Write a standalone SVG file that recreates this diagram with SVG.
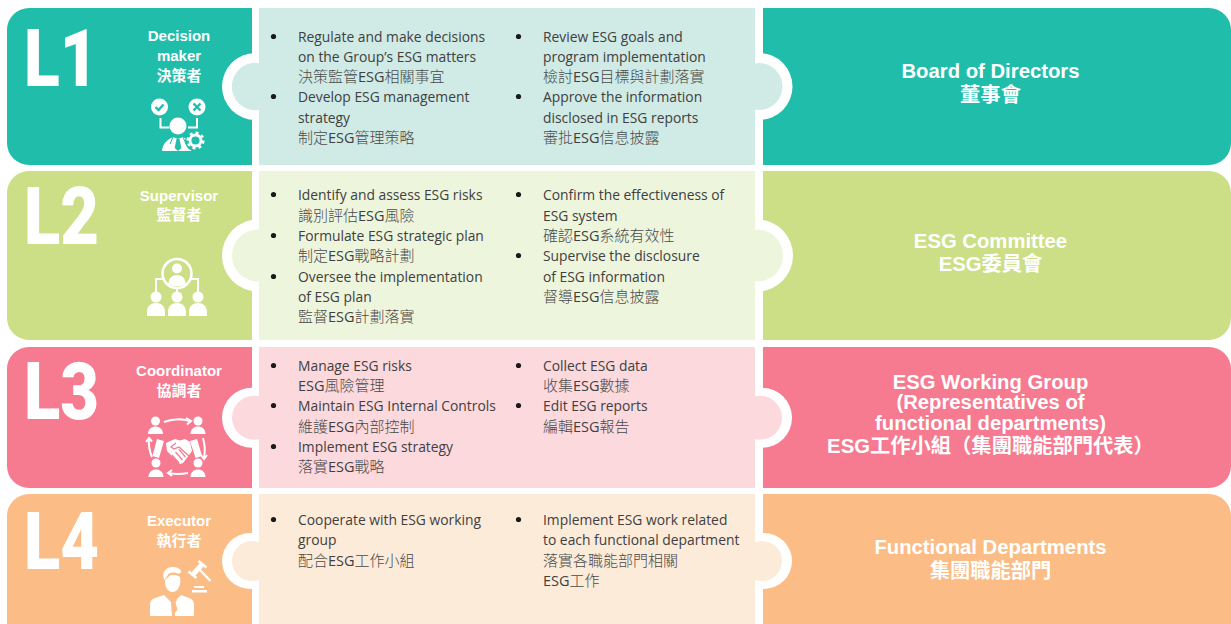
<svg xmlns="http://www.w3.org/2000/svg" width="1231" height="624" viewBox="0 0 1231 624">
<style>
.b{font:13.85px "Open Sans","Noto Sans CJK TC",sans-serif;fill:#404040}
.c{font:300 15px "Open Sans","Noto Sans CJK TC",sans-serif;fill:#4a4a4a}
.e{font-weight:400;font-size:14.5px;fill:#404040}
.d{fill:#1a1a1a}
.big{font:900 80px Roboto,"Liberation Sans",sans-serif;fill:#fff}
.role{font:bold 15px "Liberation Sans","Noto Sans CJK TC",sans-serif;fill:#fff;text-anchor:middle}
.name{font:bold 20.300px "Liberation Sans","Noto Sans CJK TC",sans-serif;fill:#fff;text-anchor:middle}
.w{fill:#fff}
.s{fill:none;stroke:#fff;stroke-width:2}
</style>
<g id="row-l1">
<path d="M29 8H252V165H29A22 22 0 0 1 7 143V30A22 22 0 0 1 29 8Z" fill="#21bdab"/>
<path d="M763 8H1209A22 22 0 0 1 1231 30V143A22 22 0 0 1 1209 165H763Z" fill="#21bdab"/>
<circle cx="255.500" cy="86.500" r="33.500" class="w"/><circle cx="759" cy="86.500" r="33.500" class="w"/>
<rect x="259" y="8" width="496" height="157" fill="#d0eae5"/>
<circle cx="255.500" cy="86.500" r="23.700" fill="#d0eae5"/><circle cx="759" cy="86.500" r="23.500" fill="#d0eae5"/>
<text x="24" y="86" class="big" textLength="74" lengthAdjust="spacingAndGlyphs">L1</text>
<text x="179" y="41" class="role">Decision</text><text x="179" y="61" class="role">maker</text><text x="179" y="81" class="role">決策者</text>
<g id="icon-l1">
<circle cx="159.500" cy="107" r="8.500" class="w"/><circle cx="197" cy="107" r="8.500" class="w"/>
<path d="M155.500 107l3 3 5-5.500M193.500 103.500l7 7M200.500 103.500l-7 7" fill="none" stroke="#21bdab" stroke-width="2.400"/>
<path class="s" d="M160.500 118v9.500h9M197 118v9.500h-9" stroke-width="1.500"/>
<circle cx="178" cy="126" r="8.500" class="w"/>
<path class="w" d="M162 151c1-8 5-11 11-14l5 2 5-2c6 3 10 6 11 14Z"/>
<path d="M176.500 139h3l1.800 9-3.300 3-3.300-3Z" fill="#21bdab"/>
<path d="M173 137l-3 7M183 137l3 7" stroke="#21bdab" fill="none"/>
<circle cx="195.500" cy="141" r="10.500" fill="#21bdab"/>
<circle cx="195.500" cy="140.500" r="5.500" fill="none" stroke="#fff" stroke-width="2.800"/>
<circle cx="195.500" cy="140.500" r="7.800" fill="none" stroke="#fff" stroke-width="2.500" stroke-dasharray="3 3.100"/>
</g>
<text x="990.500" y="78" class="name">Board of Directors</text><text x="990.500" y="102" class="name">董事會</text>
</g>
<g id="row-l2">
<path d="M29 171H252V340H29A22 22 0 0 1 7 318V193A22 22 0 0 1 29 171Z" fill="#ccdf86"/>
<path d="M763 171H1209A22 22 0 0 1 1231 193V318A22 22 0 0 1 1209 340H763Z" fill="#ccdf86"/>
<circle cx="258" cy="255.500" r="36" class="w"/><circle cx="757" cy="255.500" r="36" class="w"/>
<rect x="259" y="171" width="496" height="169" fill="#eef5dd"/>
<circle cx="258" cy="255.500" r="26" fill="#eef5dd"/><circle cx="757" cy="255.500" r="26" fill="#eef5dd"/>
<text x="24" y="243.500" class="big" textLength="75" lengthAdjust="spacingAndGlyphs">L2</text>
<text x="179" y="201" class="role">Supervisor</text><text x="179" y="220" class="role">監督者</text>
<g id="icon-l2">
<circle cx="177" cy="273.500" r="14.500" fill="none" stroke="#fff" stroke-width="2.500"/>
<circle cx="177" cy="268.500" r="5" class="w"/><path class="w" d="M168.500 284c0-6 4-9 8.500-9s8.500 3 8.500 9c-5 3-12 3-17 0Z"/>
<path class="s" d="M156 292v-13h9M198 292v-13h-9M177 287v5" stroke-width="2.500"/>
<g class="w"><circle cx="156" cy="297" r="5.500"/><circle cx="177" cy="297" r="5.500"/><circle cx="198" cy="297" r="5.500"/>
<path d="M147 316v-4c0-6 4-9 9-9s9 3 9 9v4ZM168 316v-4c0-6 4-9 9-9s9 3 9 9v4ZM189 316v-4c0-6 4-9 9-9s9 3 9 9v4Z"/></g>
</g>
<text x="990.500" y="248" class="name">ESG Committee</text><text x="990.500" y="271" class="name">ESG委員會</text>
</g>
<g id="row-l3">
<path d="M29 347H252V488H29A22 22 0 0 1 7 466V369A22 22 0 0 1 29 347Z" fill="#f67a90"/>
<path d="M763 347H1209A22 22 0 0 1 1231 369V466A22 22 0 0 1 1209 488H763Z" fill="#f67a90"/>
<circle cx="252" cy="417.700" r="30" class="w"/><circle cx="762" cy="417.700" r="30" class="w"/>
<rect x="259" y="347" width="496" height="141" fill="#fcd9dd"/>
<circle cx="254" cy="417.700" r="22" fill="#fcd9dd"/><circle cx="760" cy="417.700" r="22" fill="#fcd9dd"/>
<text x="24" y="419" class="big" textLength="75" lengthAdjust="spacingAndGlyphs">L3</text>
<text x="179" y="376" class="role">Coordinator</text><text x="179" y="396" class="role">協調者</text>
<g id="icon-l3">
<g class="w"><circle cx="155.500" cy="421" r="4.500"/><circle cx="198" cy="421" r="4.500"/><circle cx="156" cy="463" r="4.500"/><circle cx="198" cy="463" r="4.500"/>
<path d="M148 434c0-5 3.500-7.500 7.500-7.500s7.500 2.500 7.500 7.500ZM190.500 434c0-5 3.500-7.500 7.500-7.500s7.500 2.500 7.500 7.500ZM148.500 477c0-5 3.500-7.500 7.500-7.500s7.500 2.500 7.500 7.500ZM190.500 477c0-5 3.500-7.500 7.500-7.500s7.500 2.500 7.500 7.500Z"/>
<path d="M157 439l7 2-5 17-6.500-2ZM190 441l7-2 5 17-6.500 2Z"/>
<path d="M166 443l9-4 5 1.500 5-1.500 5 3 2 9-9 12-3 1-13-13Z"/></g>
<path d="M176 443l-5 4 3 2 5-2 11 10M172 455l7 8M175.500 452l7 8M179 449.500l6.500 7.500" fill="none" stroke="#f67a90" stroke-width="1.200"/>
<path class="s" d="M164 422q13-5 26-1M152 457q-4-9-3-19M203 438q3 10 1 20M188 473q-10 2-20 0" stroke-width="1.600"/>
<path class="s" d="M186 418l5 3-4 3.500M146 442l3-4 3 3.500M201 455l3 4 3-4M172 470l-4 3 4 3" stroke-width="1.600"/>
</g>
<text x="990.500" y="389" class="name">ESG Working Group</text><text x="990.500" y="409" class="name">(Representatives of</text><text x="990.500" y="430" class="name">functional departments)</text><text x="990.500" y="453" class="name">ESG工作小組（集團職能部門代表）</text>
</g>
<g id="row-l4">
<path d="M29 494H252V624H7V516A22 22 0 0 1 29 494Z" fill="#fbbc85"/>
<path d="M763 494H1209A22 22 0 0 1 1231 516V624H763Z" fill="#fbbc85"/>
<circle cx="250" cy="561" r="28" class="w"/><circle cx="764" cy="561" r="28" class="w"/>
<rect x="259" y="494" width="496" height="130" fill="#fdebd9"/>
<circle cx="252" cy="561" r="20" fill="#fdebd9"/><circle cx="762" cy="561" r="20" fill="#fdebd9"/>
<text x="24" y="569" class="big" textLength="75" lengthAdjust="spacingAndGlyphs">L4</text>
<text x="179" y="526" class="role">Executor</text><text x="179" y="546" class="role">執行者</text>
<g id="icon-l4">
<path class="w" d="M163.500 578c-1-7 3-11 9-11 5 0 8 2 9 5l-3 2c-3-2-7-2-10 0l-4 6Z"/>
<path class="w" d="M165 580c3-3 5-5 7-5 3 0 5 0 8 2 1 5 0 9-2 12-3 4-8 4-11 0-2-3-2-6-2-9Z"/>
<path class="w" d="M150 616v-12c0-3 2-5 5-6l9-3 7 7 1 14ZM194 616v-12c0-3-2-5-5-6l-8-3-7 7 1 14Z"/>
<path d="M172 600l2.500-2 2.500 2-1.500 2 2 8-3 3-3-3 2-8Z" fill="#fbbc85"/>
<path d="M192.500 575l10-11" fill="none" stroke="#fff" stroke-width="5"/>
<path d="M188.500 571.500l8 6.500M198.500 561l8 6.500M200 570l10.500 11" fill="none" stroke="#fff" stroke-width="2.500"/>
<path class="w" d="M194 586h10v2h-10ZM192 590h15v2.500h-15Z"/>
</g>
<text x="990.500" y="554" class="name">Functional Departments</text><text x="990.500" y="578" class="name">集團職能部門</text>
</g>
<g id="bullets" class="d">
<circle cx="273.500" cy="36.500" r="2.600"/><circle cx="273.500" cy="96.500" r="2.600"/><circle cx="518.500" cy="36.500" r="2.600"/><circle cx="518.500" cy="96.500" r="2.600"/>
<circle cx="273.500" cy="194.500" r="2.600"/><circle cx="273.500" cy="235.500" r="2.600"/><circle cx="273.500" cy="276.500" r="2.600"/><circle cx="518.500" cy="194.500" r="2.600"/><circle cx="518.500" cy="255.500" r="2.600"/>
<circle cx="273.500" cy="365.500" r="2.600"/><circle cx="273.500" cy="405.500" r="2.600"/><circle cx="273.500" cy="446.500" r="2.600"/><circle cx="518.500" cy="365.500" r="2.600"/><circle cx="518.500" cy="405.500" r="2.600"/>
<circle cx="273.500" cy="519.500" r="2.600"/><circle cx="518.500" cy="519.500" r="2.600"/>
</g>
<g id="text-left">
<text x="298" y="42" class="b">Regulate and make decisions</text><text x="298" y="62" class="b">on the Group’s ESG matters</text><text x="298" y="82" class="c">決策監管<tspan class="e">ESG</tspan>相關事宜</text><text x="298" y="102" class="b">Develop ESG management</text><text x="298" y="123" class="b">strategy</text><text x="298" y="143" class="c">制定<tspan class="e">ESG</tspan>管理策略</text>
<text x="298" y="200" class="b">Identify and assess ESG risks</text><text x="298" y="221" class="c">識別評估<tspan class="e">ESG</tspan>風險</text><text x="298" y="241" class="b">Formulate ESG strategic plan</text><text x="298" y="261" class="c">制定<tspan class="e">ESG</tspan>戰略計劃</text><text x="298" y="282" class="b">Oversee the implementation</text><text x="298" y="302" class="b">of ESG plan</text><text x="298" y="322" class="c">監督<tspan class="e">ESG</tspan>計劃落實</text>
<text x="298" y="371" class="b">Manage ESG risks</text><text x="298" y="391" class="c"><tspan class="e">ESG</tspan>風險管理</text><text x="298" y="411" class="b">Maintain ESG Internal Controls</text><text x="298" y="432" class="c">維護<tspan class="e">ESG</tspan>內部控制</text><text x="298" y="452" class="b">Implement ESG strategy</text><text x="298" y="472" class="c">落實<tspan class="e">ESG</tspan>戰略</text>
<text x="298" y="525" class="b">Cooperate with ESG working</text><text x="298" y="545" class="b">group</text><text x="298" y="566" class="c">配合<tspan class="e">ESG</tspan>工作小組</text>
</g>
<g id="text-right">
<text x="543" y="42" class="b">Review ESG goals and</text><text x="543" y="62" class="b">program implementation</text><text x="543" y="82" class="c">檢討<tspan class="e">ESG</tspan>目標與計劃落實</text><text x="543" y="102" class="b">Approve the information</text><text x="543" y="123" class="b">disclosed in ESG reports</text><text x="543" y="143" class="c">審批<tspan class="e">ESG</tspan>信息披露</text>
<text x="543" y="200" class="b">Confirm the effectiveness of</text><text x="543" y="221" class="b">ESG system</text><text x="543" y="241" class="c">確認<tspan class="e">ESG</tspan>系統有效性</text><text x="543" y="261" class="b">Supervise the disclosure</text><text x="543" y="282" class="b">of ESG information</text><text x="543" y="302" class="c">督導<tspan class="e">ESG</tspan>信息披露</text>
<text x="543" y="371" class="b">Collect ESG data</text><text x="543" y="391" class="c">收集<tspan class="e">ESG</tspan>數據</text><text x="543" y="411" class="b">Edit ESG reports</text><text x="543" y="432" class="c">編輯<tspan class="e">ESG</tspan>報告</text>
<text x="543" y="525" class="b">Implement ESG work related</text><text x="543" y="545" class="b">to each functional department</text><text x="543" y="566" class="c">落實各職能部門相關</text><text x="543" y="586" class="c"><tspan class="e">ESG</tspan>工作</text>
</g>
</svg>
